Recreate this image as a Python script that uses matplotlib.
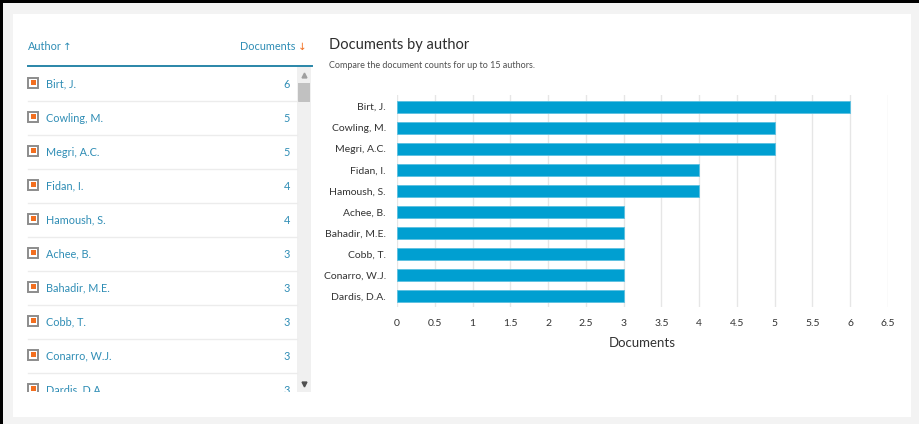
import matplotlib.pyplot as plt
from matplotlib.patches import Rectangle

# Authors and document counts (same data drives table and bars)
authors = ["Birt, J.", "Cowling, M.", "Megri, A.C.", "Fidan, I.", "Hamoush, S.",
           "Achee, B.", "Bahadir, M.E.", "Cobb, T.", "Conarro, W.J.", "Dardis, D.A."]
documents = [6, 5, 5, 4, 4, 3, 3, 3, 3, 3]
x_ticks = [0, 0.5, 1, 1.5, 2, 2.5, 3, 3.5, 4, 4.5, 5, 5.5, 6, 6.5]

plt.rcParams['font.family'] = ['Lato', 'DejaVu Sans']

W, H = 920, 424
BAR = '#009fd1'
LINK = '#2f8db5'
ORANGE = '#f26e1f'

fig = plt.figure(figsize=(W / 100, H / 100), dpi=100)
fig.patch.set_facecolor('#f3f3f3')


def fx(x):
    return x / W


def fy(y):
    return 1 - y / H


# white card and black top/left edge of the screenshot (behind the axes)
fig.patches.append(Rectangle((fx(13), fy(417)), fx(911) - fx(13), fy(14) - fy(417),
                             transform=fig.transFigure, facecolor='white', edgecolor='none',
                             zorder=-10))
fig.patches.append(Rectangle((0, fy(3)), 1, fy(0) - fy(3), transform=fig.transFigure,
                             facecolor='black', edgecolor='none', zorder=-9))
fig.patches.append(Rectangle((0, 0), fx(3), 1, transform=fig.transFigure,
                             facecolor='black', edgecolor='none', zorder=-9))

# ---- table on the left ----
fig.text(fx(28), fy(47), "Author", color=LINK, fontsize=7.8, va='center', ha='left')
fig.text(fx(62.5), fy(47), "\u2191", color=LINK, fontsize=7.5, va='center', ha='left',
         family=['DejaVu Sans'])
fig.text(fx(295), fy(47), "Documents", color=LINK, fontsize=7.8, va='center', ha='right')
fig.text(fx(297.5), fy(47), "\u2193", color=ORANGE, fontsize=7.5, va='center', ha='left',
         family=['DejaVu Sans'])
fig.lines.append(plt.Line2D([fx(28), fx(312)], [fy(66), fy(66)], transform=fig.transFigure,
                            color='#2a86a8', linewidth=1.4))

tab = fig.add_axes([fx(20), fy(392), fx(312) - fx(20), fy(67) - fy(392)])
tab.set_xlim(20, 312)
tab.set_ylim(392, 67)
tab.axis('off')

row_y0, row_h = 84, 34
for i, (name, n) in enumerate(zip(authors, documents)):
    y = row_y0 + i * row_h
    tab.add_patch(Rectangle((28.5, y - 6), 9.5, 9.5, facecolor='white', edgecolor='#8c8c8c',
                            linewidth=1.4))
    tab.add_patch(Rectangle((30.8, y - 3.7), 4.9, 4.9, facecolor=ORANGE, edgecolor='none'))
    tab.text(46, y, name, color=LINK, fontsize=7.8, va='center', ha='left', clip_on=True)
    tab.text(290, y, str(n), color=LINK, fontsize=7.8, va='center', ha='right', clip_on=True)
    tab.plot([28, 297], [y + 17, y + 17], color='#ececec', linewidth=1)

# scrollbar
tab.add_patch(Rectangle((297, 67), 14, 325, facecolor='#f0f0f0', edgecolor='none'))
tab.add_patch(Rectangle((298, 83), 12, 19, facecolor='#c1c1c1', edgecolor='none'))
tab.plot([304], [75], marker='^', color='#a0a0a0', markersize=3.5)
tab.plot([304], [384], marker='v', color='#505050', markersize=3.5)

# ---- bar chart ----
fig.text(fx(329), fy(45), "Documents by author", fontsize=10.5, color='#2e2e2e',
         va='center', ha='left')
fig.text(fx(329), fy(66), "Compare the document counts for up to 15 authors.", fontsize=6.5,
         color='#505050', va='center', ha='left')

ax = fig.add_axes([fx(397), fy(307), fx(888) - fx(397), fy(95) - fy(307)])
ax.barh(range(len(authors)), documents, height=0.57, color=BAR, edgecolor='#5cc0e0',
        linewidth=0.6, zorder=3)
ax.set_yticks(range(len(authors)))
ax.set_yticklabels(authors, fontsize=7.5, color='#333333')
ax.set_ylim(9.5, -0.55)
ax.set_xlim(0, 6.5)
ax.set_xticks(x_ticks)
ax.set_xticklabels([f"{t:g}" for t in x_ticks], fontsize=7.5, color='#333333')
ax.tick_params(length=0, pad=8)
ax.tick_params(axis='x', pad=9)
ax.grid(axis='x', color='#e6e6e6', linewidth=1, zorder=0)
for s in ax.spines.values():
    s.set_visible(False)
ax.set_xlabel("Documents", fontsize=9.5, color='#333333', labelpad=6)

fig.savefig("out.png", dpi=100)
